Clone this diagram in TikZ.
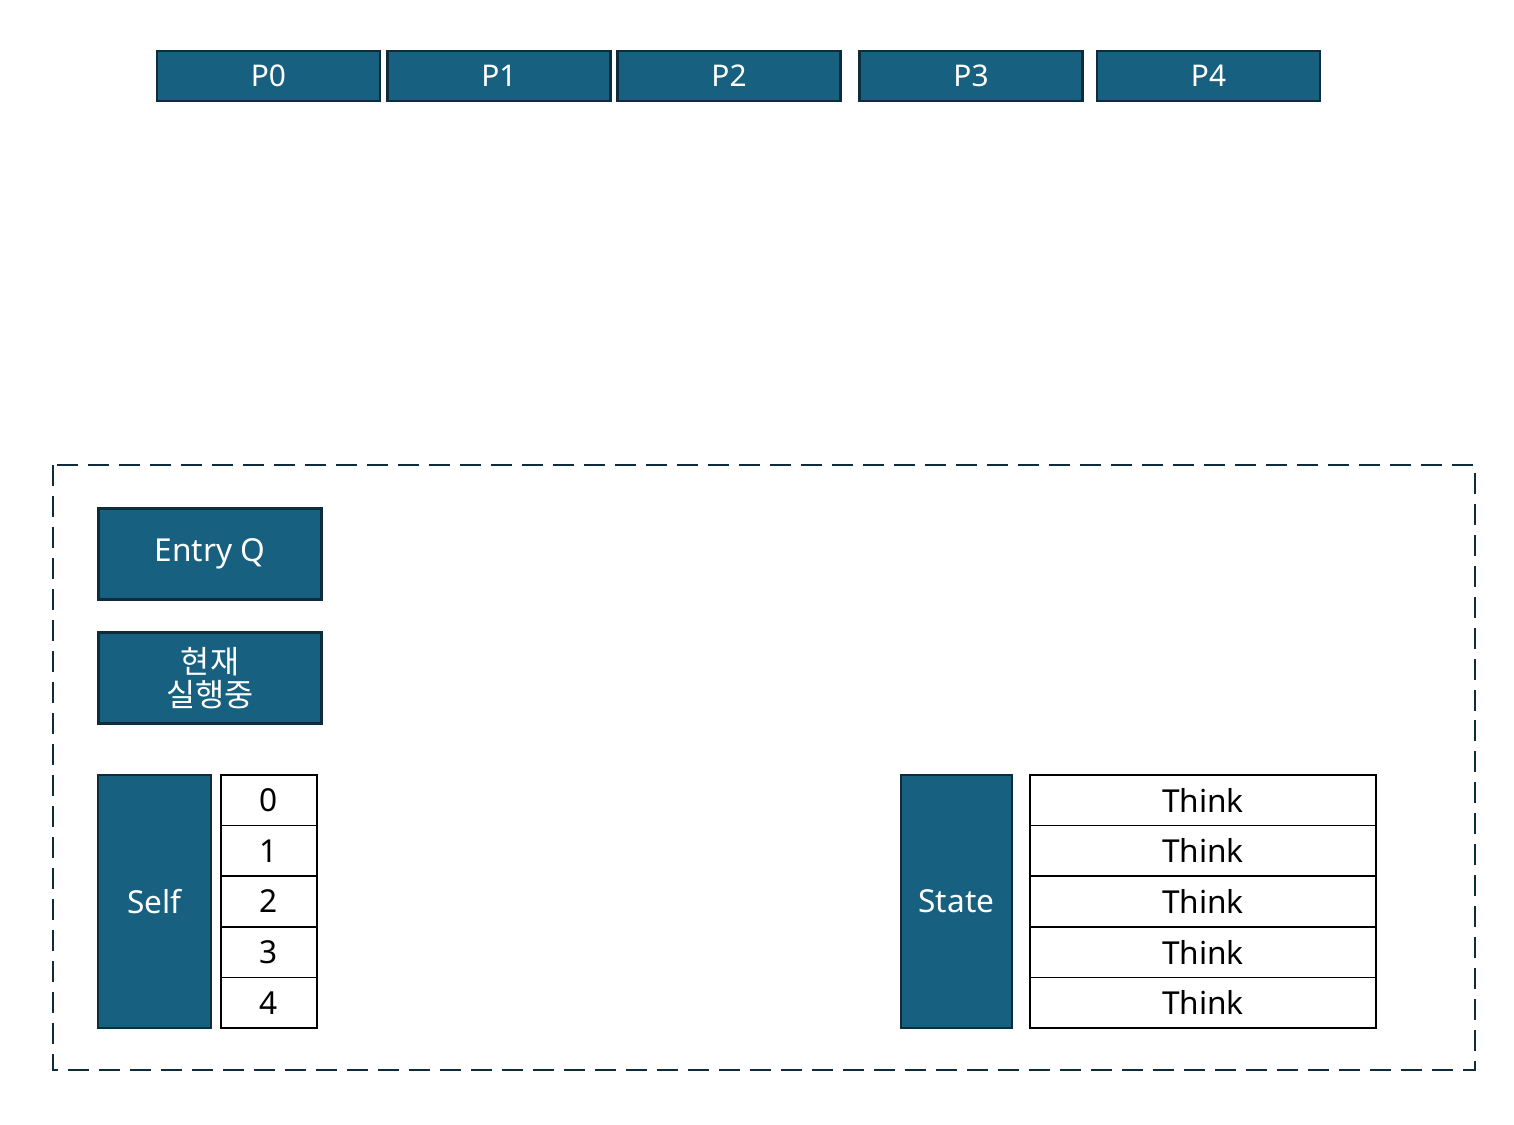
\documentclass[tikz,border=0pt]{standalone}
\usepackage{fontspec}
\setmainfont{Noto Sans}
\newfontfamily\krfont{Noto Sans CJK KR}
\definecolor{procblue}{HTML}{17607F}
\definecolor{procedge}{HTML}{0E2C3C}
\begin{document}
\begin{tikzpicture}[
  x=0.02cm, y=-0.02cm,
  proc/.style={draw=procedge, line width=1.4pt, fill=procblue, text=white, minimum width=4.46cm, minimum height=1cm, inner sep=0pt, align=center, font=\fontsize{17}{20}\selectfont},
  cell/.style={draw=black, line width=1pt, fill=white, minimum height=1.012cm, inner sep=0pt, font=\fontsize{18}{21}\selectfont},
  monitor/.style={draw=procedge, line width=1.5pt, dash pattern=on 0.42cm off 0.2cm},
]
\useasboundingbox (0,0) rectangle (1514,1125);

% --- Processes ---
\node[proc] (p0) at (268.5, 76) {P0};
\node[proc] (p1) at (499, 76) {P1};
\node[proc] (p2) at (729, 76) {P2};
\node[proc] (p3) at (971, 76) {P3};
\node[proc] (p4) at (1208.5, 76) {P4};

% --- Monitor ---
\draw[monitor] (53, 465) rectangle (1475, 1070);

\node[proc, minimum height=1.82cm, font=\fontsize{18}{21}\selectfont] (entry) at (210, 554) {Entry Q};
\node[proc, minimum height=1.82cm, font=\krfont\fontsize{18}{19}\selectfont] (running) at (210, 678) {현재\\실행중};

% --- Self table ---
\node[proc, minimum width=2.26cm, minimum height=5.06cm, font=\fontsize{18}{21}\selectfont] (self) at (154.5, 901.5) {Self};
\foreach \i in {0,...,4}
  \node[cell, minimum width=1.92cm] (idx\i) at (269, 800.3+50.6*\i) {\i};

% --- State table ---
\node[proc, minimum width=2.22cm, minimum height=5.06cm, font=\fontsize{18}{21}\selectfont] (state) at (956.5, 901.5) {State};
\foreach \i in {0,...,4}
  \node[cell, minimum width=6.92cm] (think\i) at (1203, 800.3+50.6*\i) {Think};

\end{tikzpicture}
\end{document}
